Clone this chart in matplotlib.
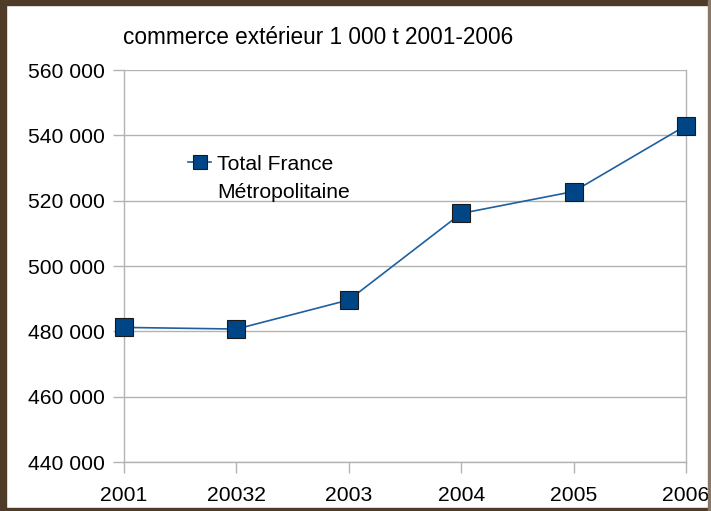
import matplotlib.pyplot as plt
from matplotlib.patches import Rectangle
from matplotlib.ticker import FuncFormatter

plt.rcParams['font.family'] = ['Liberation Sans', 'DejaVu Sans']

years = ['2001', '20032', '2003', '2004', '2005', '2006']
tonnes = [481200, 480700, 489600, 516100, 522800, 543000]
series_name = ['Total France', 'Métropolitaine']
title = 'commerce extérieur 1 000 t 2001-2006'

W, H = 711, 511
fig = plt.figure(figsize=(W / 100, H / 100), dpi=100)
fig.patch.set_facecolor('white')
ax = fig.add_axes([124 / W, 1 - 462 / H, (686 - 124) / W, (462 - 70) / H])

x = list(range(len(years)))
ax.plot(x, tonnes, color='#1f5f9f', lw=1.2, marker='s', markersize=13.5,
        markerfacecolor='#004586', markeredgecolor='#1a1a1a', markeredgewidth=0.8,
        label=series_name[0], zorder=3, clip_on=False)

ax.set_xlim(0, len(years) - 1)
ax.set_ylim(440000, 560000)
ax.set_yticks(range(440000, 560001, 20000))
ax.yaxis.set_major_formatter(FuncFormatter(lambda v, p: f'{int(v):,}'.replace(',', ' ')))
ax.set_xticks(x)
ax.set_xticklabels(years)

grid_c = '#b3b3b3'
ax.grid(axis='y', color=grid_c, lw=1)
ax.set_axisbelow(True)
for s in ['left', 'right', 'bottom']:
    ax.spines[s].set_color(grid_c)
    ax.spines[s].set_linewidth(1)
ax.spines['top'].set_visible(False)
ax.tick_params(axis='both', colors=grid_c, labelcolor='black', labelsize=15.2,
               length=8, width=1, direction='out')
ax.tick_params(axis='y', pad=6)
ax.tick_params(axis='x', pad=9)

fig.text(123 / W, 1 - 37 / H, title, fontsize=16.3, ha='left', va='center')

# legend: key on the first line, name continues on a second line
leg = ax.legend(loc='center left', bbox_to_anchor=(188 / W, 1 - 164 / H),
                bbox_transform=fig.transFigure, frameon=False, fontsize=15.2,
                handlelength=1.1, handletextpad=0.25, markerscale=0.7,
                borderaxespad=0, borderpad=0)
fig.text(217 / W, 1 - 193 / H, series_name[1], fontsize=15.2, ha='left', va='center')

# brown frame around the picture
brown = '#4f3c28'
fig.patches.append(Rectangle((0, 0), 6 / W, 1, transform=fig.transFigure, color=brown, zorder=10))
fig.patches.append(Rectangle((0, 1 - 5 / H), 1, 5 / H, transform=fig.transFigure, color=brown, zorder=10))
fig.patches.append(Rectangle((0, 0), 1, 3 / H, transform=fig.transFigure, color=brown, zorder=10))
fig.patches.append(Rectangle((1 - 3 / W, 0), 3 / W, 1, transform=fig.transFigure, color='#8a7866', zorder=10))

fig.savefig('out.png', dpi=100)
